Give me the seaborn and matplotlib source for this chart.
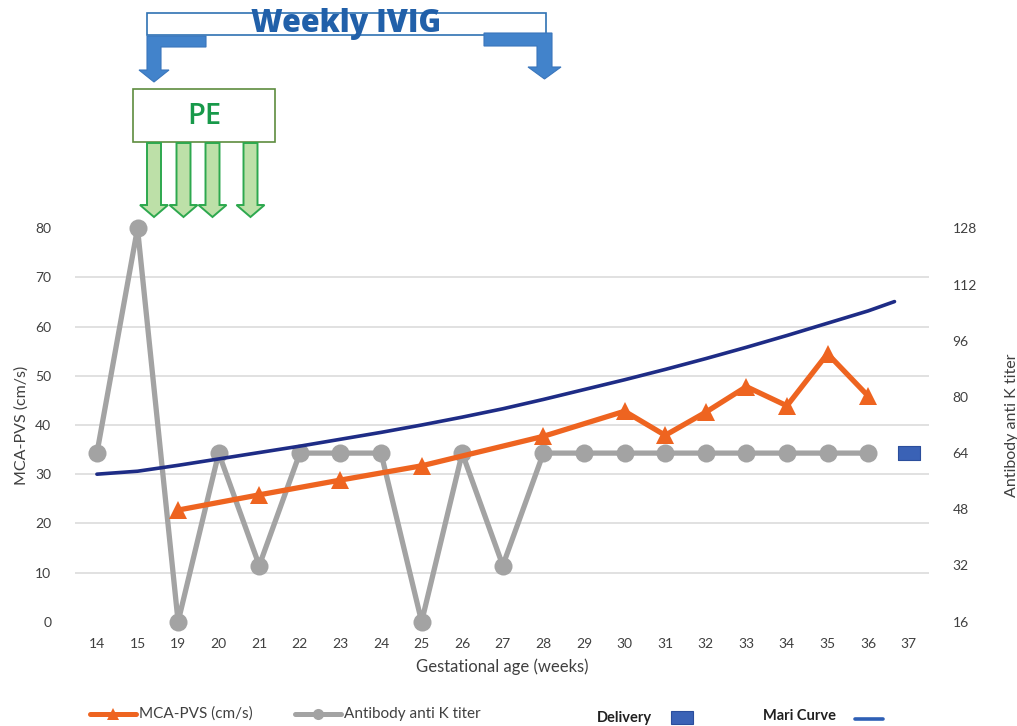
import numpy as np
import pandas as pd
import matplotlib
matplotlib.use("Agg")
import matplotlib.pyplot as plt
import seaborn as sns
from matplotlib.patches import Polygon, Rectangle
from matplotlib.lines import Line2D
from matplotlib.path import Path
from matplotlib.ticker import FixedLocator

# ---------------- data ----------------
weeks = [14, 15, 19, 20, 21, 22, 23, 24, 25, 26, 27, 28, 29, 30, 31, 32, 33, 34, 35, 36, 37]
titer_weeks = [14, 15, 19, 20, 21, 22, 23, 24, 25, 26, 27, 28, 29, 30, 31, 32, 33, 34, 35, 36]
titer_values = [64, 128, 16, 64, 32, 64, 64, 64, 16, 64, 32, 64, 64, 64, 64, 64, 64, 64, 64, 64]
mca_weeks = [19, 21, 23, 25, 28, 30, 31, 32, 33, 34, 35, 36]
mca_values = [22.7, 25.8, 28.8, 31.7, 37.7, 42.8, 37.9, 42.6, 47.8, 43.9, 54.5, 45.9]
mari_weeks = [14, 15, 19, 20, 21, 22, 23, 24, 25, 26, 27, 28, 29, 30, 31, 32, 33, 34, 35, 36, 36.65]
mari_values = [30.0, 30.6, 31.8, 33.1, 34.4, 35.7, 37.1, 38.5, 40.0, 41.6, 43.3, 45.2,
               47.2, 49.2, 51.3, 53.5, 55.8, 58.2, 60.7, 63.2, 65.1]
delivery_weeks = [37]
delivery_titer = [64]
left_ticks = [0, 10, 20, 30, 40, 50, 60, 70, 80]
right_ticks = [16, 32, 48, 64, 80, 96, 112, 128]

# ---------------- style ----------------
sns.set_theme(style="white")
plt.rcParams["font.family"] = ["Lato", "DejaVu Sans"]

ORANGE = "#EE6420"
GRAY = "#A3A3A3"
NAVY = "#1E2C86"
DELIV = "#3A62B6"
TXT = "#404040"

idx = np.arange(len(weeks))
def to_pos(ws):
    return np.interp(ws, weeks, idx)

titer_df = pd.DataFrame({"pos": to_pos(titer_weeks), "titer": titer_values})
mca_df = pd.DataFrame({"pos": to_pos(mca_weeks), "mca": mca_values})
mari_df = pd.DataFrame({"pos": to_pos(mari_weeks), "mari": mari_values})
deliv_df = pd.DataFrame({"pos": to_pos(delivery_weeks), "titer": delivery_titer})

W, H = 1017, 726
fig = plt.figure(figsize=(W / 100, H / 100), dpi=100)
fig.patch.set_facecolor("white")

l, r, b, t = 75 / W, 929 / W, 1 - 621.7 / H, 1 - 228.3 / H
ax2 = fig.add_axes([l, b, r - l, t - b])
ax = ax2.twinx()  # left-scale axis drawn on top
ax.yaxis.tick_left()
ax.yaxis.set_label_position("left")
ax2.yaxis.tick_right()
ax2.yaxis.set_label_position("right")

# grid (drawn on lower axis at left-axis tick levels)
ax2.set_ylim(16, 128)
ax.set_ylim(0, 80)
grid_levels = [16 + v * (128 - 16) / 80 for v in left_ticks]
ax2.yaxis.set_minor_locator(FixedLocator(grid_levels))
ax2.grid(which="minor", axis="y", color="#D9D9D9", lw=1.1)
ax2.grid(which="major", visible=False)
ax.grid(False)

# antibody titer (right axis)
sns.lineplot(data=titer_df, x="pos", y="titer", ax=ax2, color=GRAY, lw=3.8,
             marker="o", markersize=13, markeredgewidth=0, sort=False,
             clip_on=False, zorder=3)
rect_marker = Path([(-1, -0.62), (1, -0.62), (1, 0.62), (-1, 0.62), (-1, -0.62)],
                   [Path.MOVETO, Path.LINETO, Path.LINETO, Path.LINETO, Path.CLOSEPOLY])
sns.scatterplot(data=deliv_df, x="pos", y="titer", ax=ax2, marker=rect_marker, s=250,
                color=DELIV, edgecolor="#2B4E9C", linewidth=0.8, zorder=4, clip_on=False)

# Mari curve and MCA-PSV (left axis)
sns.lineplot(data=mari_df, x="pos", y="mari", ax=ax, color=NAVY, lw=2.6, sort=False, zorder=2)
sns.lineplot(data=mca_df, x="pos", y="mca", ax=ax, color=ORANGE, lw=3.8, marker="^",
             markersize=13.5, markeredgewidth=0, sort=False, clip_on=False, zorder=5)

for a in (ax, ax2):
    a.set_xlim(-0.54, 20.5)
    for s in a.spines.values():
        s.set_visible(False)
    a.tick_params(length=0, which="both", labelsize=10, labelcolor=TXT)
    a.set_facecolor("none")

ax.set_xticks(idx)
ax.set_xticklabels([str(w) for w in weeks])
ax2.set_xticks(idx)
ax2.set_xticklabels([str(w) for w in weeks])
ax.tick_params(axis="x", pad=12)
ax2.tick_params(axis="x", pad=12)
ax.set_yticks(left_ticks)
ax.tick_params(axis="y", pad=17)
ax2.set_yticks(right_ticks)
ax2.tick_params(axis="y", which="major", pad=17)

ax2.set_xlabel("Gestational age (weeks)", fontsize=12, color=TXT, labelpad=6)
ax.set_xlabel("")
ax.set_ylabel("MCA-PVS (cm/s)", fontsize=11.5, color=TXT, labelpad=5)
ax2.set_ylabel("Antibody anti K titer", fontsize=11.5, color=TXT, labelpad=20)

# ---------------- annotations (figure pixel overlay) ----------------
ov = fig.add_axes([0, 0, 1, 1])
ov.set_xlim(0, W)
ov.set_ylim(H, 0)
ov.axis("off")

BLUE_ARROW = "#4283CB"
ov.add_patch(Rectangle((147, 13), 399, 22, fill=False, edgecolor="#2F72B3", lw=1.2))
ov.text(346, 24, "Weekly IVIG", fontsize=22, fontweight="heavy", color="#2160A9",
        ha="center", va="center", family=["Open Sans", "DejaVu Sans"])
left_arrow = [(206, 36), (147, 36), (147, 70), (139, 70), (154, 82), (169, 70),
              (161, 70), (161, 47), (206, 47)]
right_arrow = [(484, 33), (552, 33), (552, 67), (561, 67), (544.5, 79), (528, 67),
               (537, 67), (537, 46), (484, 46)]
for pts in (left_arrow, right_arrow):
    ov.add_patch(Polygon(pts, closed=True, facecolor=BLUE_ARROW, edgecolor="#3A76BC", lw=0.8))

ov.add_patch(Rectangle((133, 89), 142, 53, facecolor="white", edgecolor="#5E8C3E", lw=1.2))
ov.text(204, 116, "PE", fontsize=21, fontweight="semibold", color="#18994A",
        ha="center", va="center", family=["Open Sans", "DejaVu Sans"])
for cx in (154, 183.5, 212.5, 250.5):
    pts = [(cx - 7, 143), (cx + 7, 143), (cx + 7, 205), (cx + 14, 205), (cx, 217),
           (cx - 14, 205), (cx - 7, 205)]
    ov.add_patch(Polygon(pts, closed=True, facecolor="#BDE0A8", edgecolor="#2DA84E", lw=1.4))

# ---------------- legend ----------------
ov.add_line(Line2D([90, 136], [714, 714], color=ORANGE, lw=3.6))
ov.add_line(Line2D([113], [714], color=ORANGE, marker="^", markersize=9, markeredgewidth=0))
ov.text(139, 714, "MCA-PVS (cm/s)", fontsize=11, color=TXT, va="center", ha="left")
ov.add_line(Line2D([295, 341], [714, 714], color=GRAY, lw=3.6))
ov.add_line(Line2D([318], [714], color=GRAY, marker="o", markersize=8, markeredgewidth=0))
ov.text(344, 714, "Antibody anti K titer", fontsize=11, color=TXT, va="center", ha="left")
ov.text(597, 718, "Delivery", fontsize=10.5, fontweight="bold", color="#202020", va="center", ha="left")
ov.add_patch(Rectangle((671, 711), 22, 13, facecolor=DELIV, edgecolor="#2B4E9C", lw=0.8))
ov.text(763, 716, "Mari Curve", fontsize=10.5, fontweight="bold", color="#202020", va="center", ha="left")
ov.add_line(Line2D([855, 883], [719, 719], color="#2E5FB5", lw=2.6))

fig.savefig("out.png", dpi=100, facecolor="white")
